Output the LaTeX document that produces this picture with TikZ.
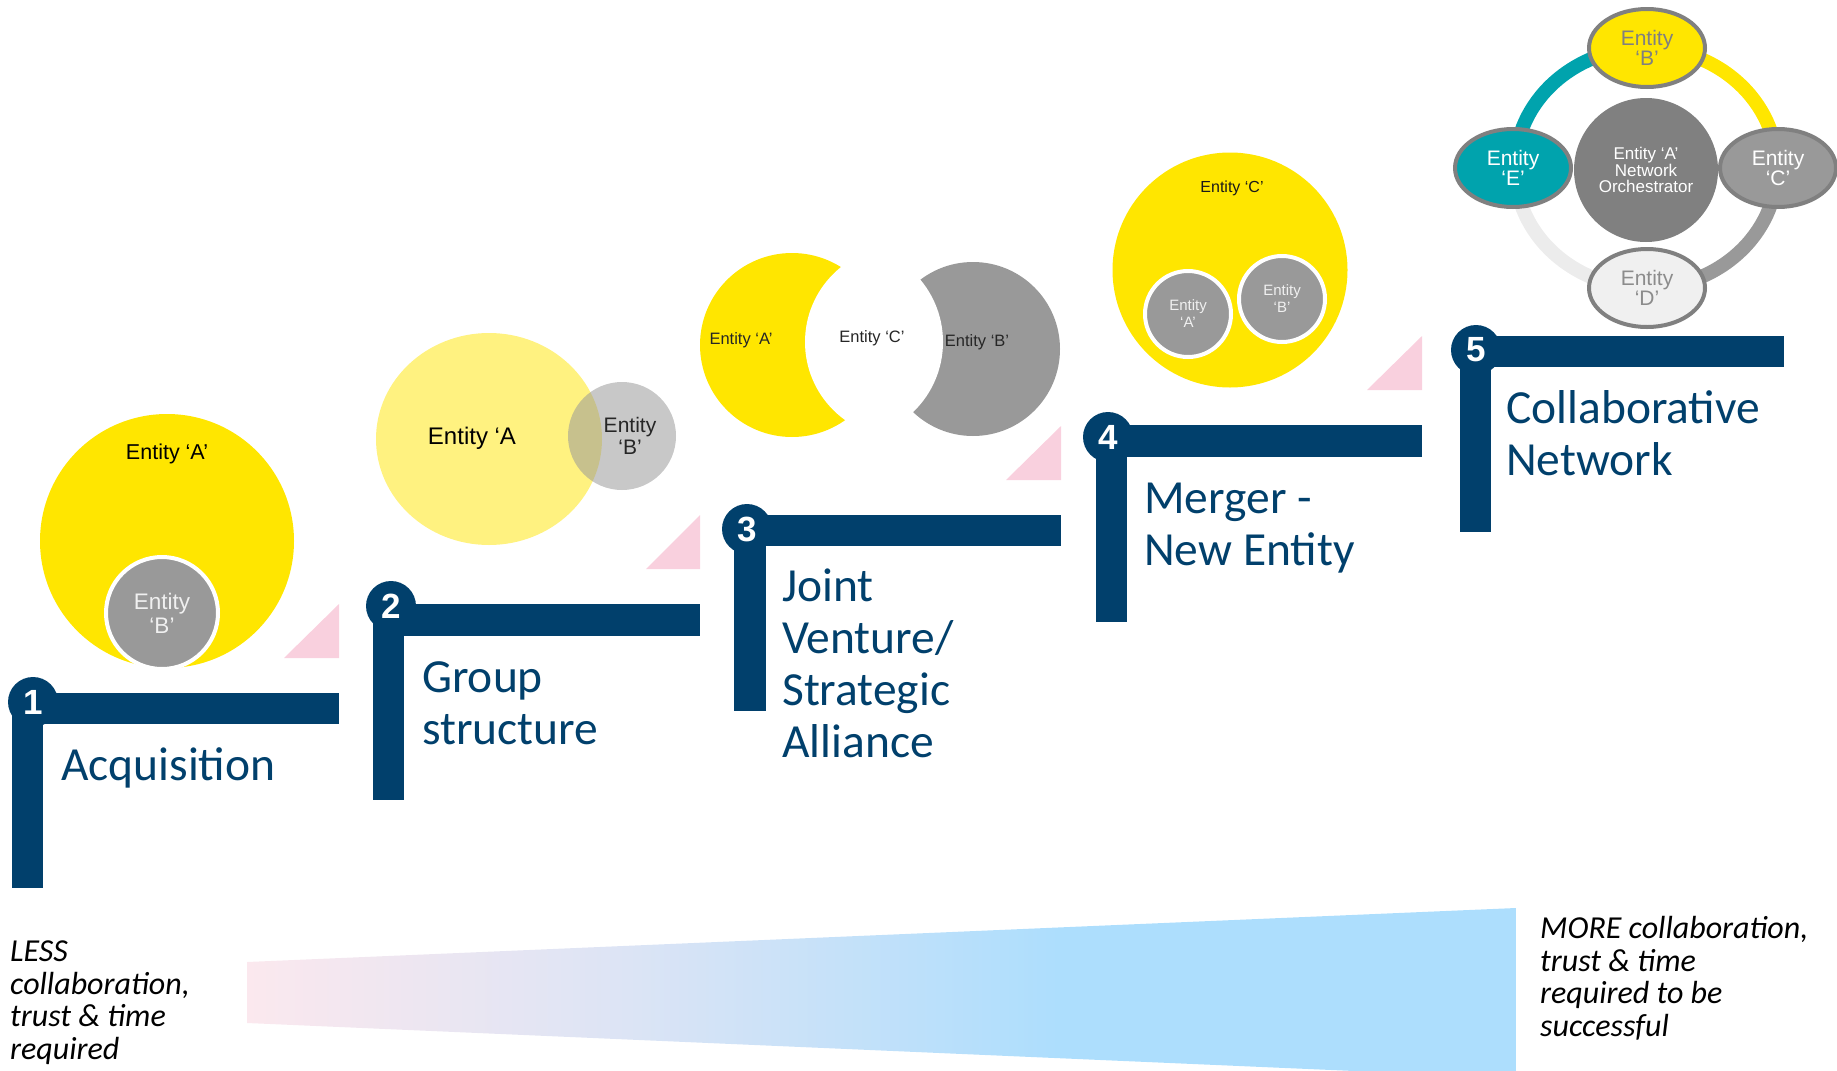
\documentclass[tikz,border=0pt]{standalone}
\usepackage{fontspec}
\setmainfont{Carlito}
\newfontfamily\arialf{Liberation Sans}
\usetikzlibrary{shapes.geometric}
\definecolor{navy}{RGB}{1,64,108}
\definecolor{ey}{RGB}{255,230,0}
\definecolor{eg}{RGB}{153,153,153}
\definecolor{egd}{RGB}{128,128,128}
\definecolor{pinktri}{RGB}{249,208,222}
\definecolor{myteal}{RGB}{0,163,173}
\definecolor{lightring}{RGB}{236,236,236}
\definecolor{dfill}{RGB}{240,240,240}
\definecolor{dtext}{RGB}{140,140,140}
\definecolor{wtext}{RGB}{240,240,240}
\definecolor{wpk}{RGB}{251,232,238}
\definecolor{wlv}{RGB}{220,228,245}
\definecolor{wbl}{RGB}{173,222,253}
\pgfdeclarehorizontalshading{wedge}{100bp}{color(0bp)=(wpk); color(25bp)=(wpk); color(40bp)=(wlv); color(57bp)=(wbl); color(100bp)=(wbl)}
\tikzset{
  navybar/.style={fill=navy},
  numdot/.style={circle, fill=navy, minimum size=50pt, inner sep=0pt, text=white, font=\arialf\bfseries\fontsize{35}{35}\selectfont},
  steplabel/.style={anchor=base west, align=left, inner sep=0pt, text=navy, font=\fontsize{47.5}{52}\selectfont},
  tri/.style={fill=pinktri},
  sidetext/.style={anchor=base west, align=left, inner sep=0pt, font=\itshape\fontsize{32}{32.5}\selectfont},
  ent/.style={align=center, inner sep=0pt},
  ell/.style={ellipse, draw=egd, line width=4pt, minimum width=116pt, minimum height=78pt, inner sep=0pt, align=center, font=\arialf\fontsize{21}{20}\selectfont},
}
\begin{document}
\begin{tikzpicture}[x=1pt,y=-1pt]
\useasboundingbox (0,0) rectangle (1837,1071);

% ---------- bottom wedge and texts (anchor = baseline of last line)
\shade[shading=wedge] (247,962) -- (1516,908) -- (1516,1078) -- (247,1023) -- cycle;
\node[sidetext] (less) at (10,1059) {LESS\\collaboration,\\trust \& time\\required};
\node[sidetext] (more) at (1540,1036) {MORE collaboration,\\trust \& time\\required to be\\successful};

% ---------- step 1
\fill[navybar] (12,702) rectangle (43,888);
\fill[navybar] (33,693) rectangle (339,724);
\fill[tri] (284,658) -- (339,658) -- (339,604) -- cycle;
\node[numdot] (n1) at (33,702) {1};
\node[steplabel] (t1) at (61,780) {Acquisition};

\node[circle, fill=ey, minimum size=254pt, inner sep=0pt] (a1) at (167,541) {};
\node[ent, font=\arialf\fontsize{21.5}{21.5}\selectfont] (a1t) at (167,454) {Entity ‘A’};
\node[circle, fill=eg, draw=white, line width=4pt, minimum size=112pt, ent, text=wtext, font=\arialf\fontsize{22.5}{24}\selectfont] (b1) at (162,613) {Entity\\‘B’};

% ---------- step 2
\fill[navybar] (373,606) rectangle (404,800);
\fill[navybar] (391,604) rectangle (700,636);
\fill[tri] (646,569) -- (700,569) -- (700,515) -- cycle;
\node[numdot] (n2) at (391,606) {2};
\node[steplabel] (t2) at (422,744) {Group\\structure};

\node[ellipse, fill=ey!50, minimum width=226pt, minimum height=212pt, inner sep=0pt] (a2) at (489,439) {};
\node[circle, fill=eg, fill opacity=0.54, minimum size=108pt, inner sep=0pt] (b2) at (622,436) {};
\node[ent, font=\arialf\fontsize{24}{24}\selectfont] (a2t) at (472,438) {Entity ‘A};
\node[ent, text=black!85, font=\arialf\fontsize{21}{22}\selectfont] (b2t) at (630,436) {Entity\\‘B’};

% ---------- step 3
\fill[navybar] (734,529) rectangle (766,711);
\fill[navybar] (747,515) rectangle (1061,546);
\fill[tri] (1006,480) -- (1061,480) -- (1061,426) -- cycle;
\node[numdot] (n3) at (747,529) {3};
\node[steplabel] (t3) at (782,757) {Joint\\Venture/\\Strategic\\Alliance};

\fill[ey] (792,345) circle[radius=92pt];
\fill[eg] (973,349) circle[radius=87pt];
\begin{scope}
  \clip (901,342) circle[radius=96pt];
  \fill[white] (846,342) circle[radius=97pt];
\end{scope}
\node[ent, text=black!85, font=\arialf\fontsize{16.5}{16}\selectfont] (a3t) at (741,340) {Entity ‘A’};
\node[ent, text=black!85, font=\arialf\fontsize{16.5}{16}\selectfont] (c3t) at (872,338) {Entity ‘C’};
\node[ent, text=black!85, font=\arialf\fontsize{16.5}{16}\selectfont] (b3t) at (977,342) {Entity ‘B’};

% ---------- step 4
\fill[navybar] (1096,437) rectangle (1127,622);
\fill[navybar] (1108,425) rectangle (1422,457);
\fill[tri] (1367,390) -- (1422,390) -- (1422,336) -- cycle;
\node[numdot] (n4) at (1108,437) {4};
\node[steplabel] (t4) at (1144,565) {Merger -\\New Entity};

\node[circle, fill=ey, minimum size=235pt, inner sep=0pt] (c4) at (1230,270) {};
\node[ent, text=black!90, font=\arialf\fontsize{16}{16}\selectfont] (c4t) at (1232,188) {Entity ‘C’};
\node[circle, fill=eg, draw=white, line width=4pt, minimum size=86pt, ent, text=wtext, font=\arialf\fontsize{15}{17}\selectfont] (a4) at (1188,314) {Entity\\‘A’};
\node[circle, fill=eg, draw=white, line width=4pt, minimum size=86pt, ent, text=wtext, font=\arialf\fontsize{15}{17}\selectfont] (b4) at (1282,299) {Entity\\‘B’};

% ---------- step 5
\fill[navybar] (1460,350) rectangle (1491,532);
\fill[navybar] (1476,336) rectangle (1784,367);
\node[numdot] (n5) at (1476,350) {5};
\node[steplabel] (t5) at (1506,475) {Collaborative\\Network};

\begin{scope}
  \clip (1646,168) rectangle (1837,0);
  \draw[ey, line width=14pt] (1646,168) ellipse[x radius=131pt, y radius=120pt];
\end{scope}
\begin{scope}
  \clip (1646,168) rectangle (1400,0);
  \draw[myteal, line width=14pt] (1646,168) ellipse[x radius=131pt, y radius=120pt];
\end{scope}
\begin{scope}
  \clip (1646,168) rectangle (1837,330);
  \draw[eg, line width=14pt] (1646,168) ellipse[x radius=131pt, y radius=120pt];
\end{scope}
\begin{scope}
  \clip (1646,168) rectangle (1400,330);
  \draw[lightring, line width=14pt] (1646,168) ellipse[x radius=131pt, y radius=120pt];
\end{scope}

\node[circle, fill=egd, minimum size=144pt, ent, text=white, font=\arialf\fontsize{17}{16.5}\selectfont] (a5) at (1646,170) {Entity ‘A’\\Network\\Orchestrator};
\node[ell, fill=ey, text=egd] (b5) at (1647,48) {Entity\\‘B’};
\node[ell, fill=myteal, text=white] (e5) at (1513,168) {Entity\\‘E’};
\node[ell, fill=eg, text=white] (c5) at (1778,168) {Entity\\‘C’};
\node[ell, fill=dfill, text=dtext] (d5) at (1647,288) {Entity\\‘D’};
\end{tikzpicture}
\end{document}
